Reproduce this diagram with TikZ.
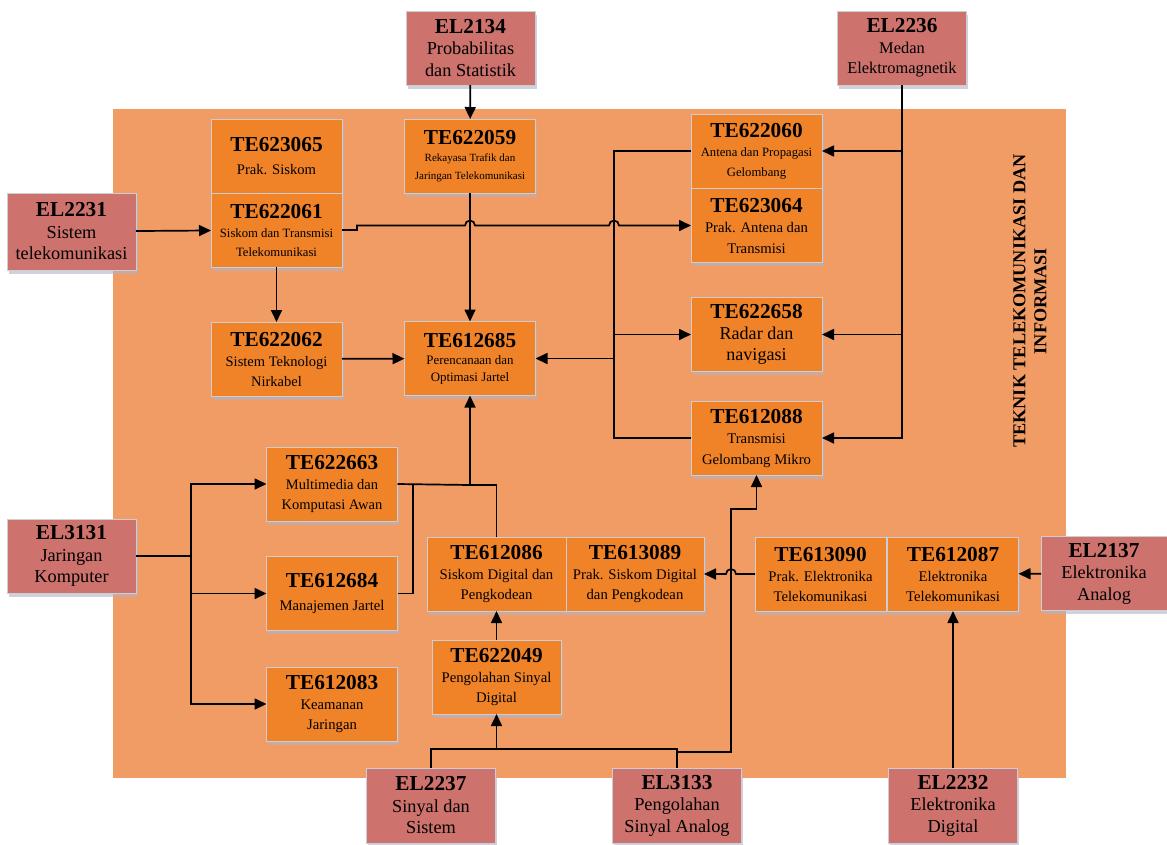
\documentclass[tikz,border=0pt]{standalone}
\usepackage{fontspec}
\setmainfont{Liberation Serif}
\usetikzlibrary{arrows.meta, shadows}
\definecolor{bidang}{RGB}{241, 156, 101}
\definecolor{kuliah}{RGB}{240, 130, 40}
\definecolor{prasyarat}{RGB}{205, 114, 108}
\definecolor{tepi}{RGB}{205, 205, 212}
\definecolor{bayang}{RGB}{175, 180, 200}
\newcommand{\kode}[1]{{\fontsize{21.3}{21.3}\selectfont\bfseries #1}}
\newcommand{\fsz}[2]{\fontsize{#1}{#2}\selectfont}

\begin{document}
\begin{tikzpicture}[
    x=1pt, y=-1pt,
    matkul/.style={
        rectangle,
        draw=tepi,
        fill=#1,
        line width=1pt,
        minimum width=131pt,
        minimum height=74pt,
        inner sep=1pt,
        outer sep=0pt,
        align=center,
        drop shadow={shadow xshift=1.5pt, shadow yshift=-3.5pt, fill=bayang, opacity=0.6},
        font=\fsz{14.7}{20}
    },
    course/.style={matkul=kuliah},
    prereq/.style={matkul=prasyarat, minimum width=129pt, font=\fsz{18.3}{21.5}},
    wire/.style={draw=black, line width=1.7pt},
    arrow/.style={wire, -{Triangle[length=12pt, width=11pt]}}
]
\useasboundingbox (0,0) rectangle (1167,844);

% Background area
\fill[bidang] (113,109) rectangle (1066,778);

% Prerequisite courses
\node[prereq] (el2134) at (470.5,48) {\kode{EL2134}\\Probabilitas\\dan Statistik};
\node[prereq, font=\fsz{16.4}{20.5}] (el2236) at (902,48) {\kode{EL2236}\\Medan\\Elektromagnetik};
\node[prereq, minimum height=77pt] (el2231) at (71.5,231.5) {\kode{EL2231}\\Sistem\\telekomunikasi};
\node[prereq] (el3131) at (71.5,556) {\kode{EL3131}\\Jaringan\\Komputer};
\node[prereq, minimum width=126pt] (el2137) at (1104,573.5) {\kode{EL2137}\\Elektronika\\Analog};
\node[prereq, minimum height=75pt] (el2237) at (431,805.5) {\kode{EL2237}\\Sinyal dan\\Sistem};
\node[prereq, minimum height=75pt] (el3133) at (677,805.5) {\kode{EL3133}\\Pengolahan\\Sinyal Analog};
\node[prereq, minimum height=75pt] (el2232) at (953,805.5) {\kode{EL2232}\\Elektronika\\Digital};

% Courses
\node[course, font=\fsz{14.6}{23}] (te623065) at (276.5,156) {\kode{TE623065}\\Prak. Siskom};
\node[course, font=\fsz{12.7}{19}] (te622061) at (276.5,230) {\kode{TE622061}\\Siskom dan Transmisi\\Telekomunikasi};
\node[course, font=\fsz{11}{17.5}] (te622059) at (470,156) {\kode{TE622059}\\Rekayasa Trafik dan\\Jaringan Telekomunikasi};
\node[course, font=\fsz{12.7}{19.5}] (te622060) at (756.5,151) {\kode{TE622060}\\Antena dan Propagasi\\Gelombang};
\node[course, font=\fsz{14.7}{20.5}] (te623064) at (756.5,225.5) {\kode{TE623064}\\Prak. Antena dan\\Transmisi};
\node[course, font=\fsz{14.5}{20}] (te622062) at (276.5,359) {\kode{TE622062}\\Sistem Teknologi\\Nirkabel};
\node[course, font=\fsz{12.9}{17}] (te612685) at (470,358.5) {\kode{TE612685}\\Perencanaan dan\\Optimasi Jartel};
\node[course, font=\fsz{18.1}{21}] (te622658) at (756.5,334.5) {\kode{TE622658}\\Radar dan\\navigasi};
\node[course, font=\fsz{14.7}{20.5}] (te612088) at (756.5,438) {\kode{TE612088}\\Transmisi\\Gelombang Mikro};
\node[course, font=\fsz{14.5}{20}] (te622663) at (332,484) {\kode{TE622663}\\Multimedia dan\\Komputasi Awan};
\node[course, font=\fsz{14.7}{23}] (te612684) at (332,593.5) {\kode{TE612684}\\Manajemen Jartel};
\node[course] (te612083) at (332,704) {\kode{TE612083}\\Keamanan\\Jaringan};
\node[course, minimum width=139pt] (te612086) at (496.5,574) {\kode{TE612086}\\Siskom Digital dan\\Pengkodean};
\node[course, minimum width=138pt] (te613089) at (635,574) {\kode{TE613089}\\Prak. Siskom Digital\\dan Pengkodean};
\node[course, minimum width=129pt] (te622049) at (496.5,677) {\kode{TE622049}\\Pengolahan Sinyal\\Digital};
\node[course] (te613090) at (820.5,574) {\kode{TE613090}\\Prak. Elektronika\\Telekomunikasi};
\node[course] (te612087) at (953,574) {\kode{TE612087}\\Elektronika\\Telekomunikasi};

% Study program label
\node[rotate=90, align=center, font=\fsz{18.2}{21}\bfseries] (prodi) at (1030,301) {TEKNIK TELEKOMUNIKASI DAN\\INFORMASI};

% Helper points
\coordinate (fan) at (191,556);
\coordinate (join) at (470,485);
\coordinate (sinyal) at (496.5,749);

% Top inputs
\draw[arrow] (el2134) -- (te622059);
\draw[arrow] (el2236.south) |- (te612088.east);
\draw[arrow] (el2236.south |- te622060.east) -- (te622060.east);
\draw[arrow] (el2236.south |- te622658.east) -- (te622658.east);
\draw[arrow] (el2231) -- (te622061);
\draw[arrow] (te622061.east) -- ++(15,0) |- (465,225.5)
    arc[start angle=180, end angle=0, radius=5pt] -- (609,225.5)
    arc[start angle=180, end angle=0, radius=5pt] -- (te623064.west);
\draw[arrow] (te622061) -- (te622062);
\draw[arrow] (te622059) -- (te612685);
\draw[arrow] (te622062) -- (te612685);

% Antenna bus
\draw[wire] (te622060.west) -- ++(-77,0) |- (te612088.west);
\draw[arrow] (te622060.west) ++(-77,0) |- (te622658.west);
\draw[arrow] (te622060.west) ++(-77,0) |- (te612685.east);

% Network branch
\draw[wire] (el3131.east) -- (fan);
\draw[arrow] (fan) |- (te622663.west);
\draw[arrow] (fan) |- (te612684.west);
\draw[arrow] (fan) |- (te612083.west);
\draw[wire] (te622663.east) -- (join);
\draw[wire] (te612684.east) -| (413,484);
\draw[wire] (te612086.north) |- (join);
\draw[arrow] (join) -- (te612685.south);

% Signal branch
\draw[arrow] (te622049) -- (te612086);
\draw[wire] (el2237.north) -- ++(0,-19) -| (el3133.north);
\draw[arrow] (sinyal) -- (te622049.south);
\draw[arrow] (el3133.north) |- (731,752) |- (te612088.south |- 0,509) -- (te612088.south);
\draw[arrow] (te613090.west) -- (736,574)
    arc[start angle=0, end angle=180, radius=5pt] -- (te613089.east);

% Electronics inputs
\draw[arrow] (el2137) -- (te612087);
\draw[arrow] (el2232) -- (te612087);

\end{tikzpicture}
\end{document}
